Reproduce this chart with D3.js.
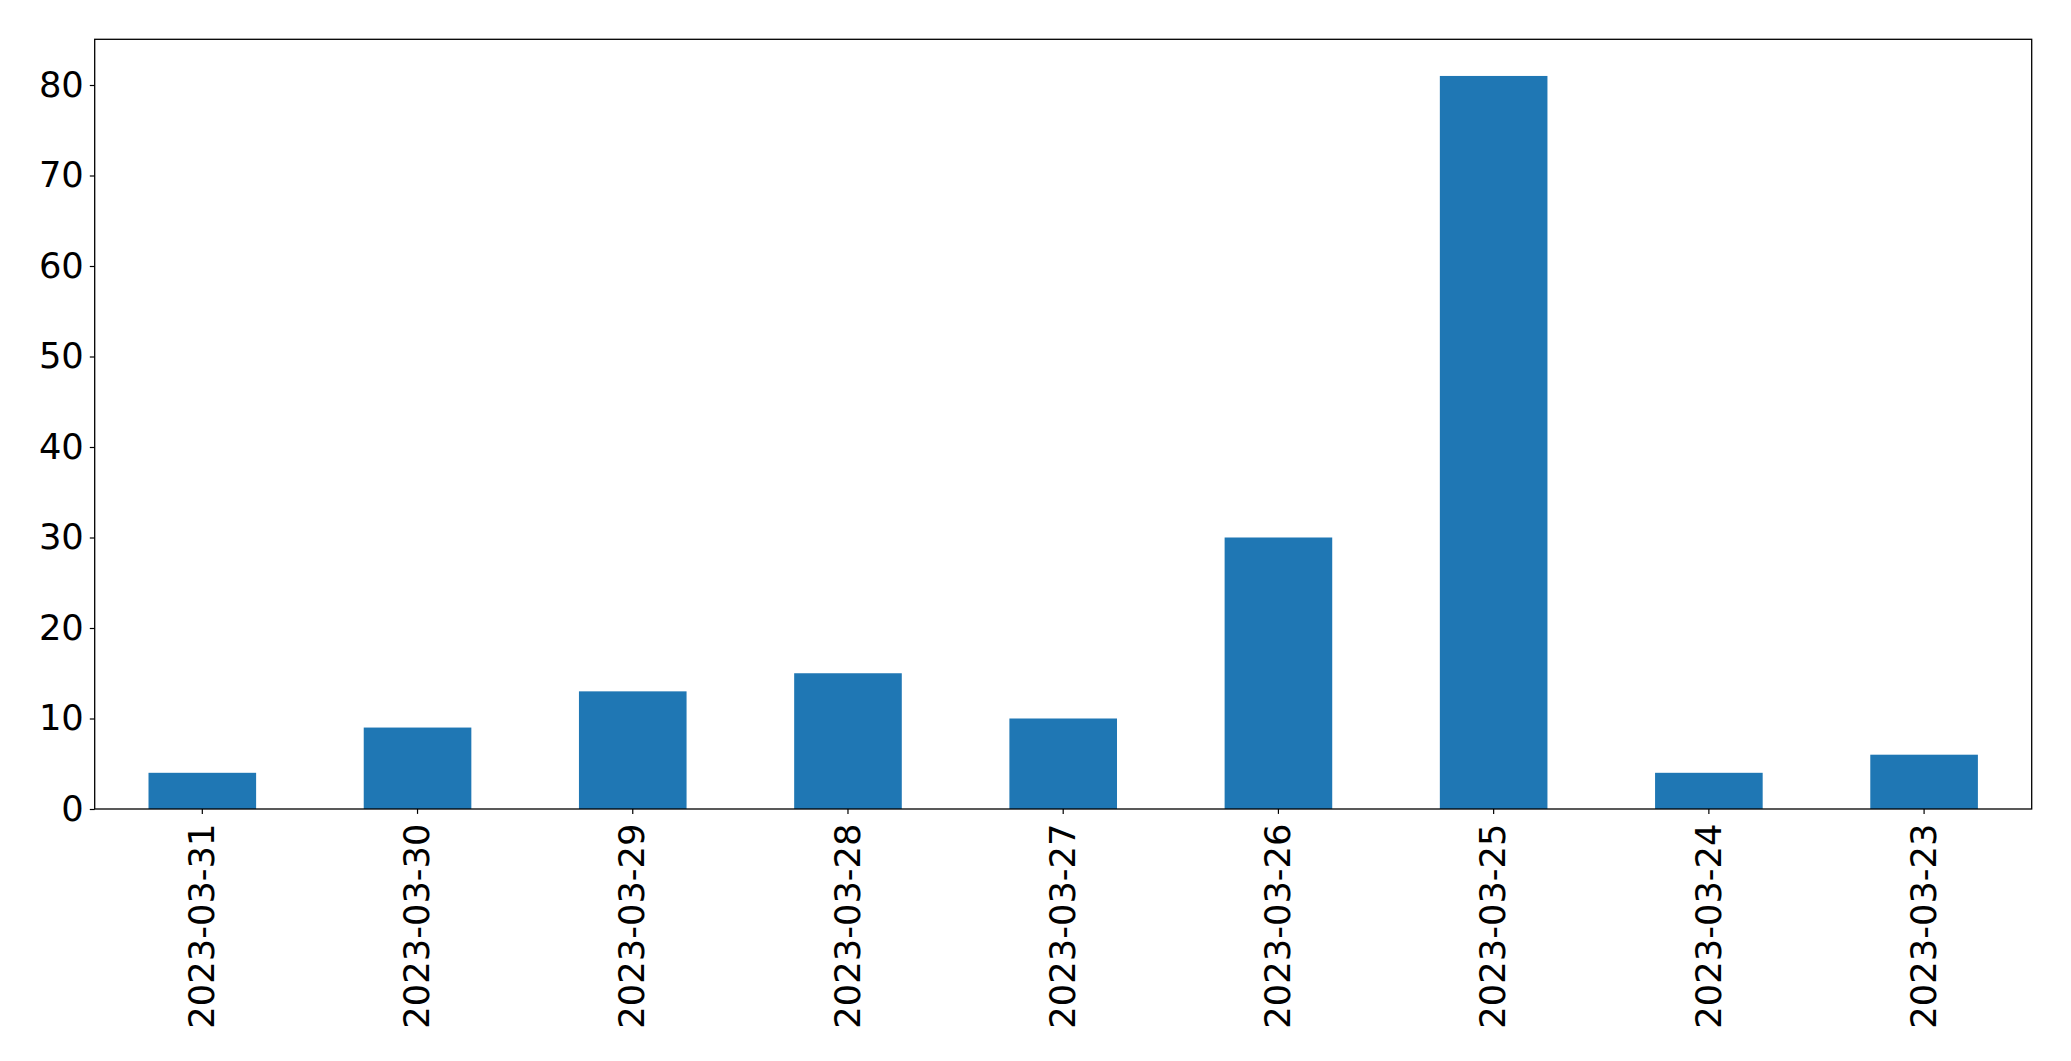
<!DOCTYPE html>
<html>
<head>
<meta charset="utf-8">
<script src="https://cdn.jsdelivr.net/npm/d3@7"></script>
<style>
  html, body { margin: 0; padding: 0; background: #fff; }
  svg { display: block; }
  text { font-family: "DejaVu Sans", sans-serif; fill: #000; }
</style>
</head>
<body>
<script>
const categories = ["2023-03-31", "2023-03-30", "2023-03-29", "2023-03-28", "2023-03-27", "2023-03-26", "2023-03-25", "2023-03-24", "2023-03-23"];
const values = [4, 9, 13, 15, 10, 30, 81, 4, 6];
const yTicks = [0, 10, 20, 30, 40, 50, 60, 70, 80];

const W = 2071, H = 1061;
const mLeft = 94.7, mRight = 2031.7, mTop = 39.3, mBottom = 809;

const svg = d3.select("body").append("svg").attr("width", W).attr("height", H);

const x = d3.scaleBand().domain(categories).range([mLeft, mRight]).paddingInner(0.5).paddingOuter(0.25);
const y = d3.scaleLinear().domain([0, d3.max(values) * 1.05]).range([mBottom, mTop]);

svg.append("g").selectAll("rect").data(values).join("rect")
  .attr("x", (d, i) => x(categories[i]))
  .attr("width", x.bandwidth())
  .attr("y", d => y(d))
  .attr("height", d => y(0) - y(d))
  .attr("fill", "#1f77b4");

const fs = 35.3;

const yAxis = svg.append("g").attr("transform", `translate(${mLeft},0)`)
  .call(d3.axisLeft(y).tickValues(yTicks).tickSize(4.9).tickPadding(6).tickFormat(d3.format("d")));
yAxis.select(".domain").remove();
yAxis.selectAll("line").attr("stroke", "#000").attr("stroke-width", 1.2);
yAxis.selectAll("text").style("font-size", fs + "px").attr("font-family", "DejaVu Sans");

const xAxis = svg.append("g").attr("transform", `translate(0,${mBottom})`)
  .call(d3.axisBottom(x).tickSize(4.9).tickPadding(0));
xAxis.select(".domain").remove();
xAxis.selectAll("line").attr("stroke", "#000").attr("stroke-width", 1.2);
xAxis.selectAll("text")
  .style("font-size", fs + "px")
  .attr("font-family", "DejaVu Sans")
  .attr("text-anchor", "end")
  .attr("transform", "translate(0,14.5) rotate(-90)")
  .attr("x", 0).attr("y", 0).attr("dy", "0.33em");

svg.append("rect")
  .attr("x", mLeft).attr("y", mTop)
  .attr("width", mRight - mLeft).attr("height", mBottom - mTop)
  .attr("fill", "none").attr("stroke", "#000").attr("stroke-width", 1.3);
</script>
</body>
</html>
